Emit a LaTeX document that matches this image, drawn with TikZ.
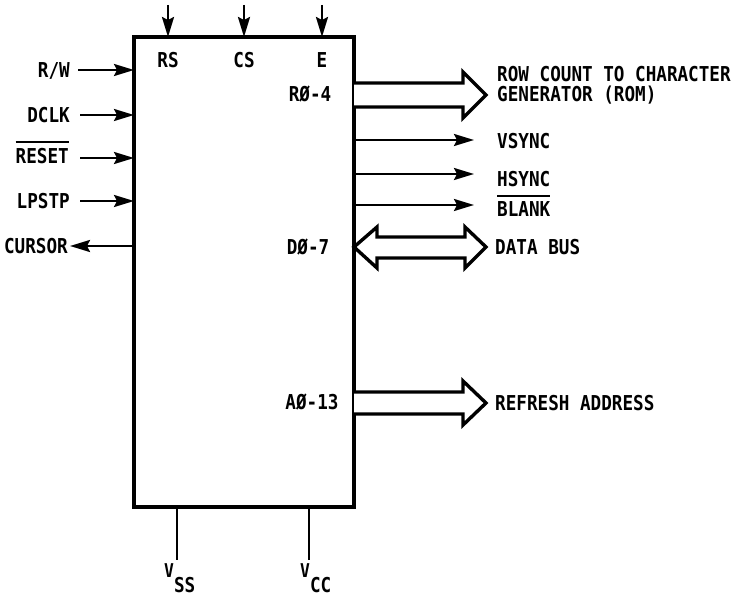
\documentclass[tikz,border=0pt]{standalone}
\usepackage{fontspec}
\setmainfont{DejaVu Sans Mono}[FakeStretch=0.86]
\usetikzlibrary{arrows.meta}
\newcommand\myovl[1]{\vbox{\hrule height 2pt\kern 5pt\hbox{#1}}}
\newcommand\lblfont{\fontsize{20.5}{20}\selectfont\bfseries}
\begin{document}
\begin{tikzpicture}[x=1pt,y=-1pt,
  lbl/.style={inner sep=0pt, text height=15pt, text depth=0pt, font=\lblfont},
  sig/.style={line width=2.4pt, -{Stealth[length=20pt,width=12pt,inset=3pt]}},
  pwr/.style={line width=2.2pt},
  bus/.style={line width=3.4pt, line join=miter, fill=white},
]
\useasboundingbox (0,0) rectangle (741,596);
\node[draw, line width=3.2pt, minimum width=220pt, minimum height=470pt, inner sep=0pt, outer sep=0pt, anchor=north west] (chip) at (134,37) {};

% top inputs
\node[lbl] (rs) at (168,60) {RS};
\node[lbl] (cs) at (244,60) {CS};
\node[lbl] (e) at (322,60) {E};
\coordinate (rsin) at (168,5);
\coordinate (csin) at (244,5);
\coordinate (ein) at (322,5);
\draw[sig] (rsin) -- (rsin |- chip.north);
\draw[sig] (csin) -- (csin |- chip.north);
\draw[sig] (ein) -- (ein |- chip.north);

% left side
\node[lbl, anchor=east] (rw) at (70,70) {R/W};
\node[lbl, anchor=east] (dclk) at (70,115) {DCLK};
\node[lbl, anchor=east] (reset) at (69,156) {\myovl{RESET}};
\node[lbl, anchor=east] (lpstp) at (70,201) {LPSTP};
\node[lbl, anchor=east] (cursor) at (68,246) {CURSOR};
\draw[sig] ([xshift=8pt]rw.east) -- (rw.east -| chip.west);
\draw[sig] ([xshift=10pt]dclk.east) -- (dclk.east -| chip.west);
\draw[sig] ([xshift=11pt,yshift=-2pt]reset.east) -- ([yshift=-2pt]reset.east -| chip.west);
\draw[sig] ([xshift=10pt]lpstp.east) -- (lpstp.east -| chip.west);
\draw[sig] (cursor.east -| chip.west) -- ([xshift=2pt]cursor.east);

% right side inner labels
\node[lbl] (r04) at (310,94) {RØ-4};
\node[lbl] (d07) at (308,247) {DØ-7};
\node[lbl] (a013) at (312,402) {AØ-13};

% row count bus
\draw[bus] (chip.east |- 0,83) -- (463,83) -- (463,72) -- (486,95) -- (463,118) -- (463,107) -- (chip.east |- 0,107);
\node[anchor=base west, inner sep=0pt, align=left, font=\lblfont] (rowcnt) at (497,102) {ROW COUNT TO CHARACTER\\GENERATOR (ROM)};

% single outputs
\node[lbl, anchor=west] (vsync) at (497,141) {VSYNC};
\node[lbl, anchor=west] (hsync) at (497,179) {HSYNC};
\node[lbl, anchor=west] (blank) at (497,209) {\myovl{BLANK}};
\coordinate (vsyncend) at (474,140);
\coordinate (hsyncend) at (474,174);
\coordinate (blankend) at (474,205);
\draw[sig] (vsyncend -| chip.east) -- (vsyncend);
\draw[sig] (hsyncend -| chip.east) -- (hsyncend);
\draw[sig] (blankend -| chip.east) -- (blankend);

% data bus
\draw[bus] (chip.east |- 0,247) -- (377,227) -- (377,237) -- (465,237) -- (465,227) -- (486,247) -- (465,268) -- (465,258) -- (377,258) -- (377,268) -- cycle;
\node[lbl, anchor=west] (databus) at (495,247) {DATA BUS};

% refresh address
\draw[bus] (chip.east |- 0,392) -- (463,392) -- (463,381) -- (486,403) -- (463,425) -- (463,414) -- (chip.east |- 0,414);
\node[lbl, anchor=west] (refresh) at (495,403) {REFRESH ADDRESS};

% power
\coordinate (vss) at (177,560);
\coordinate (vcc) at (309,560);
\draw[pwr] (vss |- chip.south) -- (vss);
\draw[pwr] (vcc |- chip.south) -- (vcc);
\node[anchor=base west, inner sep=0pt] (vssl) at (164,577) {\fontsize{19}{19}\selectfont\bfseries V\raisebox{-15pt}{\lblfont SS}};
\node[anchor=base west, inner sep=0pt] (vccl) at (300,577) {\fontsize{19}{19}\selectfont\bfseries V\raisebox{-15pt}{\lblfont CC}};
\end{tikzpicture}
\end{document}
